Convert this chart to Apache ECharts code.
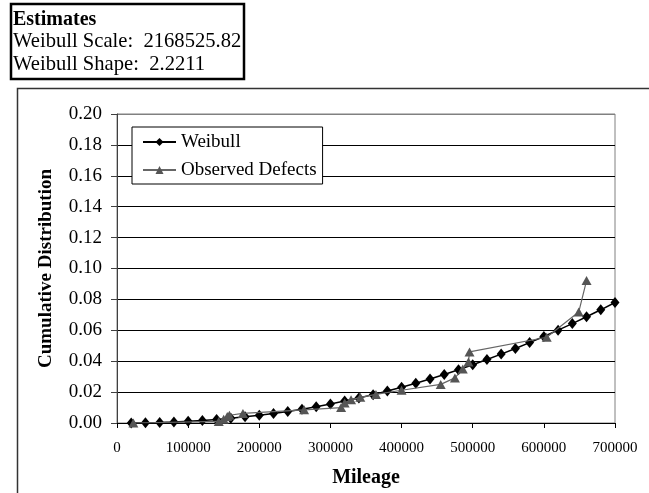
<!DOCTYPE html>
<html>
<head>
<meta charset="utf-8">
<script src="https://cdn.jsdelivr.net/npm/echarts@6/dist/echarts.min.js"></script>
<style>
html,body{margin:0;padding:0;background:#fff;}
#c{width:649px;height:493px;}
</style>
</head>
<body>
<div id="c"></div>
<script>
const estimateLines = ['Estimates', 'Weibull Scale:  2168525.82', 'Weibull Shape:  2.2211'];
const seriesNames = ['Weibull', 'Observed Defects'];
const xTickLabels = ['0', '100000', '200000', '300000', '400000', '500000', '600000', '700000'];
const yTickLabels = ['0.00', '0.02', '0.04', '0.06', '0.08', '0.10', '0.12', '0.14', '0.16', '0.18', '0.20'];

const weibullMileage = [20000, 40000, 60000, 80000, 100000, 120000, 140000, 160000, 180000, 200000,
  220000, 240000, 260000, 280000, 300000, 320000, 340000, 360000, 380000, 400000,
  420000, 440000, 460000, 480000, 500000, 520000, 540000, 560000, 580000, 600000,
  620000, 640000, 660000, 680000, 700000];
const weibullValues = [0.00003, 0.00014, 0.00035, 0.00066, 0.00108, 0.00161, 0.00227, 0.00306, 0.00397, 0.00501,
  0.00619, 0.00750, 0.00895, 0.01055, 0.01229, 0.01417, 0.01619, 0.01836, 0.02068, 0.02315,
  0.02576, 0.02852, 0.03143, 0.03450, 0.03772, 0.04107, 0.04458, 0.04825, 0.05204, 0.05601,
  0.06010, 0.06436, 0.06874, 0.07327, 0.07798];

const observedMileage = [23000, 143000, 150000, 155000, 158000, 177000, 263000, 315000, 320000, 329000,
  342000, 364000, 400000, 455000, 475000, 486000, 494000, 495500, 604000, 649000, 660000];
const observedValues = [0.0000, 0.0010, 0.0025, 0.0042, 0.0050, 0.0062, 0.0085, 0.0100, 0.0130, 0.0150,
  0.0166, 0.0185, 0.0212, 0.0250, 0.0292, 0.0350, 0.0395, 0.0460, 0.0555, 0.0718, 0.0922];

const FONT = '"Liberation Serif", "Times New Roman", serif';
const pairs = (xs, ys) => xs.map((x, i) => [x, ys[i]]);
const gridColors = yTickLabels.map((t, i) => i === yTickLabels.length - 1 ? '#808080' : '#000');

const chart = echarts.init(document.getElementById('c'), null, {renderer: 'canvas'});
chart.setOption({
  animation: false,
  backgroundColor: '#ffffff',
  textStyle: {fontFamily: FONT, color: '#000'},
  graphic: [
    {type: 'rect', left: 15, top: 86, shape: {x: 0, y: 0, width: 700, height: 500},
     style: {fill: 'none', stroke: '#333', lineWidth: 1.5}, z: 0, silent: true},
    {type: 'rect', shape: {x: 11, y: 4, width: 233, height: 75},
     style: {fill: '#fff', stroke: '#000', lineWidth: 2.5}, z: 1, silent: true},
    {type: 'text', x: 13, y: 19.5, z: 2,
     style: {text: estimateLines[0], font: 'bold 20px ' + FONT, fill: '#000', verticalAlign: 'middle'}},
    {type: 'text', x: 13, y: 42, z: 2,
     style: {text: estimateLines[1], font: '20.6px ' + FONT, fill: '#000', verticalAlign: 'middle'}},
    {type: 'text', x: 13, y: 64.5, z: 2,
     style: {text: estimateLines[2], font: '20.6px ' + FONT, fill: '#000', verticalAlign: 'middle'}}
  ],
  grid: {left: 117, right: 34, top: 114, bottom: 66, show: true, borderColor: '#808080', borderWidth: 1, backgroundColor: 'transparent'},
  legend: {
    orient: 'vertical', left: 132, top: 127,
    backgroundColor: '#fff', borderColor: '#000', borderWidth: 1,
    padding: [5, 6, 4, 10], itemGap: 8, itemWidth: 33, itemHeight: 10,
    textStyle: {fontFamily: FONT, fontSize: 19, color: '#000', lineHeight: 20},
    data: seriesNames
  },
  xAxis: {
    type: 'value', min: 0, max: 700000, interval: 100000,
    name: 'Mileage', nameLocation: 'middle', nameGap: 45,
    nameTextStyle: {fontFamily: FONT, fontSize: 20, fontWeight: 'bold', color: '#000'},
    axisLine: {show: true, onZero: false, lineStyle: {color: '#000', width: 1}},
    axisTick: {show: true, length: 5, inside: false, lineStyle: {color: '#000'}},
    axisLabel: {fontFamily: FONT, fontSize: 15, color: '#000', margin: 18,
      formatter: (v, i) => xTickLabels[i]},
    splitLine: {show: false}
  },
  yAxis: {
    type: 'value', min: 0, max: 0.2, interval: 0.02,
    name: 'Cumulative Distribution', nameLocation: 'middle', nameGap: 61,
    nameTextStyle: {fontFamily: FONT, fontSize: 19, fontWeight: 'bold', color: '#000'},
    axisLine: {show: true, lineStyle: {color: '#404040', width: 1}},
    axisTick: {show: true, length: 6, inside: false, lineStyle: {color: '#404040'}},
    axisLabel: {fontFamily: FONT, fontSize: 19, color: '#000', margin: 15,
      formatter: (v, i) => yTickLabels[i]},
    splitLine: {show: true, lineStyle: {color: gridColors, width: 1}}
  },
  series: [
    {
      name: seriesNames[0], type: 'line', data: pairs(weibullMileage, weibullValues),
      symbol: 'diamond', symbolSize: [9, 11], showSymbol: true,
      lineStyle: {color: '#000', width: 1.5}, itemStyle: {color: '#000'}, z: 3
    },
    {
      name: seriesNames[1], type: 'line', data: pairs(observedMileage, observedValues),
      symbol: 'triangle', symbolSize: [10, 9], showSymbol: true,
      lineStyle: {color: '#666', width: 1.2}, itemStyle: {color: '#555'}, z: 4
    }
  ]
});
</script>
</body>
</html>
